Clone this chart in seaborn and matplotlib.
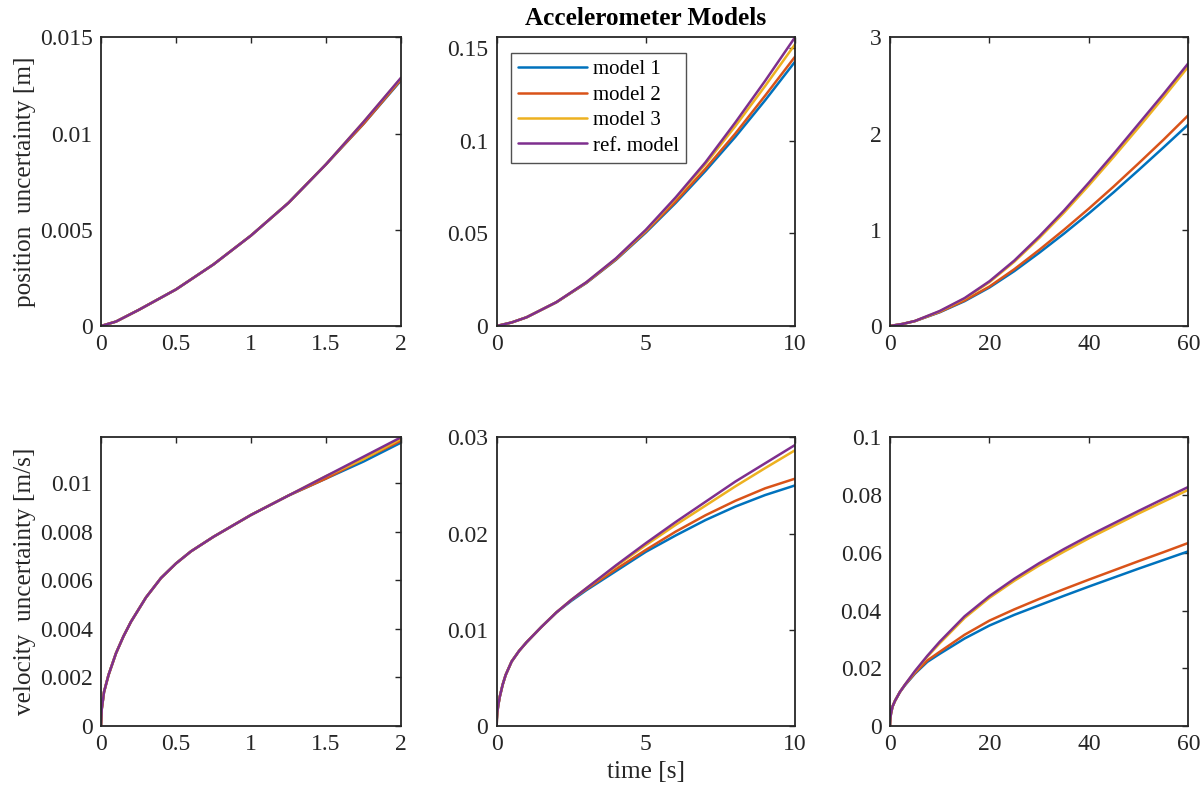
import matplotlib
matplotlib.use("Agg")
import matplotlib.pyplot as plt
from matplotlib.ticker import FormatStrFormatter
import seaborn as sns
import pandas as pd

# ---------------- data ----------------
models = ["model 1", "model 2", "model 3", "ref. model"]
colors = ["#0072BD", "#D95319", "#EDB120", "#7E2F8E"]

# position uncertainty [m], 0-2 s
t_pos_short = [0, 0.1, 0.25, 0.5, 0.75, 1.0, 1.25, 1.5, 1.75, 2.0]
pos_short_m1 = [0, 0.00023, 0.00083, 0.0019, 0.0032, 0.0047, 0.0064, 0.0084, 0.0105, 0.01276]
pos_short_m2 = [0, 0.00023, 0.00083, 0.0019, 0.0032, 0.0047, 0.0064, 0.0084, 0.0105, 0.01280]
pos_short_m3 = [0, 0.00023, 0.00083, 0.0019, 0.0032, 0.0047, 0.0064, 0.0084, 0.0106, 0.01287]
pos_short_ref = [0, 0.00023, 0.00083, 0.0019, 0.0032, 0.0047, 0.0064, 0.0084, 0.0106, 0.0129]

# position uncertainty [m], 0-10 s
t_pos_mid = [0, 0.5, 1, 2, 3, 4, 5, 6, 7, 8, 9, 10]
pos_mid_m1 = [0, 0.0019, 0.0047, 0.0128, 0.0232, 0.0358, 0.0505, 0.0665, 0.0838, 0.1022, 0.1220, 0.1428]
pos_mid_m2 = [0, 0.0019, 0.0047, 0.0128, 0.0233, 0.0360, 0.0510, 0.0673, 0.0850, 0.1040, 0.1245, 0.1455]
pos_mid_m3 = [0, 0.0019, 0.0047, 0.0129, 0.0235, 0.0364, 0.0516, 0.0689, 0.0875, 0.1080, 0.1297, 0.1522]
pos_mid_ref = [0, 0.0019, 0.0047, 0.0129, 0.0236, 0.0366, 0.0520, 0.0695, 0.0885, 0.1100, 0.1325, 0.1560]

# position uncertainty [m], 0-60 s
t_pos_long = [0, 2.5, 5, 10, 15, 20, 25, 30, 35, 40, 45, 50, 55, 60]
pos_long_m1 = [0, 0.021, 0.0505, 0.1428, 0.258, 0.400, 0.570, 0.760, 0.960, 1.170, 1.390, 1.620, 1.855, 2.094]
pos_long_m2 = [0, 0.021, 0.051, 0.1455, 0.265, 0.410, 0.590, 0.790, 1.000, 1.220, 1.450, 1.690, 1.935, 2.190]
pos_long_m3 = [0, 0.021, 0.0516, 0.1522, 0.284, 0.455, 0.668, 0.913, 1.178, 1.462, 1.758, 2.063, 2.375, 2.695]
pos_long_ref = [0, 0.021, 0.052, 0.156, 0.290, 0.465, 0.680, 0.930, 1.200, 1.490, 1.790, 2.100, 2.410, 2.730]

# velocity uncertainty [m/s], 0-2 s
t_vel_short = [0, 0.005, 0.02, 0.05, 0.1, 0.15, 0.2, 0.3, 0.4, 0.5, 0.6, 0.75, 1.0, 1.25, 1.5, 1.75, 2.0]
vel_short_m1 = [0, 0.0007, 0.0014, 0.0021, 0.0030, 0.0037, 0.0043, 0.0053, 0.0061, 0.0067, 0.0072, 0.0078, 0.0087, 0.0095, 0.0102, 0.0109, 0.01168]
vel_short_m2 = [0, 0.0007, 0.0014, 0.0021, 0.0030, 0.0037, 0.0043, 0.0053, 0.0061, 0.0067, 0.0072, 0.0078, 0.0087, 0.0095, 0.0102, 0.0110, 0.01176]
vel_short_m3 = [0, 0.0007, 0.0014, 0.0021, 0.0030, 0.0037, 0.0043, 0.0053, 0.0061, 0.0067, 0.0072, 0.0078, 0.0087, 0.0095, 0.0103, 0.0110, 0.01184]
vel_short_ref = [0, 0.0007, 0.0014, 0.0021, 0.0030, 0.0037, 0.0043, 0.0053, 0.0061, 0.0067, 0.0072, 0.0078, 0.0087, 0.0095, 0.0103, 0.0111, 0.0119]

# velocity uncertainty [m/s], 0-10 s
t_vel_mid = [0, 0.005, 0.02, 0.05, 0.1, 0.2, 0.3, 0.5, 0.75, 1, 1.5, 2, 2.5, 3, 4, 5, 6, 7, 8, 9, 10]
vel_mid_m1 = [0, 0.0007, 0.0014, 0.0021, 0.0030, 0.0043, 0.0053, 0.0067, 0.0078, 0.0087, 0.0103, 0.0118, 0.0130, 0.0141, 0.0161, 0.0181, 0.0198, 0.0214, 0.0228, 0.0240, 0.0250]
vel_mid_m2 = [0, 0.0007, 0.0014, 0.0021, 0.0030, 0.0043, 0.0053, 0.0067, 0.0078, 0.0087, 0.0103, 0.0118, 0.0131, 0.0142, 0.0163, 0.0183, 0.0202, 0.0219, 0.0234, 0.0247, 0.0257]
vel_mid_m3 = [0, 0.0007, 0.0014, 0.0021, 0.0030, 0.0043, 0.0053, 0.0067, 0.0078, 0.0087, 0.0103, 0.0118, 0.0131, 0.0143, 0.0166, 0.0188, 0.0209, 0.0229, 0.0249, 0.0268, 0.02865]
vel_mid_ref = [0, 0.0007, 0.0014, 0.0021, 0.0030, 0.0043, 0.0053, 0.0067, 0.0078, 0.0087, 0.0103, 0.0118, 0.0131, 0.0143, 0.0167, 0.0190, 0.0212, 0.0233, 0.0254, 0.0273, 0.0292]

# velocity uncertainty [m/s], 0-60 s
t_vel_long = [0, 0.005, 0.02, 0.05, 0.1, 0.2, 0.5, 1, 2, 3, 5, 7.5, 10, 15, 20, 25, 30, 35, 40, 45, 50, 55, 60]
vel_long_m1 = [0, 0.0007, 0.0014, 0.0021, 0.0030, 0.0043, 0.0067, 0.0087, 0.0118, 0.0141, 0.0181, 0.0222, 0.0250, 0.0303, 0.0348, 0.0385, 0.0418, 0.0451, 0.0483, 0.0514, 0.0545, 0.0575, 0.0605]
vel_long_m2 = [0, 0.0007, 0.0014, 0.0021, 0.0030, 0.0043, 0.0067, 0.0087, 0.0118, 0.0142, 0.0183, 0.0227, 0.0257, 0.0316, 0.0365, 0.0404, 0.0440, 0.0474, 0.0507, 0.0539, 0.0571, 0.0602, 0.0634]
vel_long_m3 = [0, 0.0007, 0.0014, 0.0021, 0.0030, 0.0043, 0.0067, 0.0087, 0.0118, 0.0143, 0.0188, 0.0240, 0.02865, 0.0374, 0.0444, 0.0503, 0.0556, 0.0604, 0.0650, 0.0693, 0.0736, 0.0777, 0.0818]
vel_long_ref = [0, 0.0007, 0.0014, 0.0021, 0.0030, 0.0043, 0.0067, 0.0087, 0.0118, 0.0143, 0.0190, 0.0243, 0.0292, 0.0380, 0.0450, 0.0510, 0.0564, 0.0613, 0.0659, 0.0702, 0.0745, 0.0787, 0.0828]

pos_x_ticks = [[0, 0.5, 1, 1.5, 2], [0, 5, 10], [0, 20, 40, 60]]
pos_y_ticks = [[0, 0.005, 0.01, 0.015], [0, 0.05, 0.1, 0.15], [0, 1, 2, 3]]
vel_y_ticks = [[0, 0.002, 0.004, 0.006, 0.008, 0.01], [0, 0.01, 0.02, 0.03], [0, 0.02, 0.04, 0.06, 0.08, 0.1]]
pos_y_max = [0.015, 0.156, 3]
vel_y_max = [0.0119, 0.03, 0.1]
x_max = [2, 10, 60]

# ---------------- style ----------------
sns.set_style("white")
plt.rcParams["font.family"] = ["Liberation Serif", "DejaVu Serif"]
ink = "#262626"


def long_form(t, series):
    rows = []
    for name, vals in zip(models, series):
        for ti, vi in zip(t, vals):
            rows.append((ti, vi, name))
    return pd.DataFrame(rows, columns=["time", "value", "model"])


panels = [
    (t_pos_short, [pos_short_m1, pos_short_m2, pos_short_m3, pos_short_ref]),
    (t_pos_mid, [pos_mid_m1, pos_mid_m2, pos_mid_m3, pos_mid_ref]),
    (t_pos_long, [pos_long_m1, pos_long_m2, pos_long_m3, pos_long_ref]),
    (t_vel_short, [vel_short_m1, vel_short_m2, vel_short_m3, vel_short_ref]),
    (t_vel_mid, [vel_mid_m1, vel_mid_m2, vel_mid_m3, vel_mid_ref]),
    (t_vel_long, [vel_long_m1, vel_long_m2, vel_long_m3, vel_long_ref]),
]

W, H = 1204, 792
fig = plt.figure(figsize=(W / 100, H / 100), dpi=100)

col_px = [(101, 401), (496.7, 795), (890, 1188.3)]
row_px = [(37.3, 326), (437.3, 726)]

axes = []
for r in range(2):
    for c in range(3):
        x0, x1 = col_px[c]
        y0, y1 = row_px[r]
        ax = fig.add_axes([x0 / W, 1 - y1 / H, (x1 - x0) / W, (y1 - y0) / H])
        axes.append(ax)

for i, (ax, (t, series)) in enumerate(zip(axes, panels)):
    df = long_form(t, series)
    sns.lineplot(data=df, x="time", y="value", hue="model", hue_order=models,
                 palette=colors, estimator=None, sort=False, linewidth=1.8,
                 legend=False, ax=ax)
    c = i % 3
    ax.set_xlim(0, x_max[c])
    ax.set_xticks(pos_x_ticks[c])
    if i < 3:
        ax.set_ylim(0, pos_y_max[c])
        ax.set_yticks(pos_y_ticks[c])
    else:
        ax.set_ylim(0, vel_y_max[c])
        ax.set_yticks(vel_y_ticks[c])
    ax.xaxis.set_major_formatter(FormatStrFormatter("%g"))
    ax.yaxis.set_major_formatter(FormatStrFormatter("%g"))
    ax.set_xlabel("")
    ax.set_ylabel("")
    ax.tick_params(direction="in", top=True, right=True, length=4, width=1.0,
                   colors=ink, labelsize=17, pad=6)
    for s in ax.spines.values():
        s.set_visible(True)
        s.set_color(ink)
        s.set_linewidth(1.3)

axes[0].set_ylabel("position  uncertainty [m]", fontsize=18.2, color=ink, labelpad=3)
axes[3].set_ylabel("velocity  uncertainty [m/s]", fontsize=18.2, color=ink, labelpad=3)
axes[4].set_xlabel("time [s]", fontsize=18.2, color=ink, labelpad=4)
axes[1].set_title("Accelerometer Models", fontsize=18.2, fontweight="bold",
                  color="black", pad=9)

leg_lines = axes[1].get_lines()[:4]
leg = axes[1].legend(leg_lines, models, loc="upper left",
                     bbox_to_anchor=(0.047, 0.947), borderaxespad=0,
                     fontsize=15, frameon=True, fancybox=False,
                     handlelength=3.3, handletextpad=0.3, labelspacing=0.28,
                     borderpad=0.35)
leg.get_frame().set_edgecolor(ink)
leg.get_frame().set_linewidth(1.0)
for txt in leg.get_texts():
    txt.set_color("black")

fig.savefig("out.png", dpi=100, facecolor="white")
